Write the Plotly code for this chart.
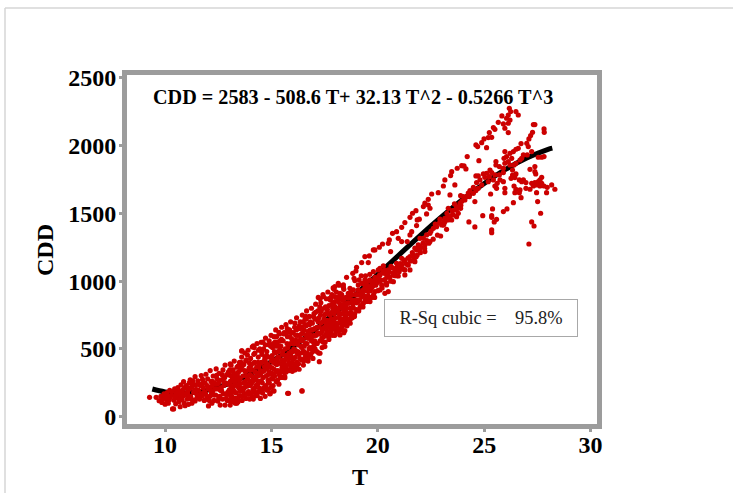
import plotly.graph_objects as go

curve_T = [9.4,10,11,12,13,14,15,16,17,18,19,20,21,22,23,24,25,26,27,28,28.2]
curve_CDD = [204,183,175,196,244,315,406,513,635,767,907,1050,1194,1338,1475,1604,1721,1824,1908,1972,1981]

cold_T = [9.27,9.58,9.72,9.8,9.85,9.9,9.95,10.0,10.02,10.08,
10.1,10.15,10.18,10.22,10.3,10.35,10.4,10.42,10.45,10.5,
10.52,10.55,10.6,10.65,10.68,10.71,10.72,10.75,10.8,10.85,
10.87,10.9,10.94,10.96,11.0,11.04,11.08,11.1,11.14,11.18,
11.2,11.24,11.26,11.3,11.34,11.38,11.41,11.41,11.45,11.5,
11.54,11.58,11.62,11.66,11.7,11.72,11.76,11.8,11.84,11.88,
11.9,11.92,11.95,12.0,12.04,12.06,12.1,12.12,12.16,12.2,
12.24,12.26,12.3,12.34,12.38,12.4,12.44,12.48,12.5,12.54,
12.56,12.59,12.62,12.66,12.7,12.72,12.76,12.8,12.82,12.82,
12.86,12.9,12.92,12.96,13.0,13.06,13.06,13.11,13.16,13.37,
10.25,10.62,10.78,11.02,11.28,11.48,11.6,11.82,11.98,12.14,
12.32,12.46,12.64,12.78,12.94,10.82,11.12,11.44,11.74,12.08]
cold_CDD = [143,143,118,150,105,132,168,92,148,120,
178,100,140,195,160,57,57,122,205,95,
175,140,215,110,190,74,155,235,125,200,
258,100,81,170,230,130,195,91,250,271,
150,215,99,265,180,125,116,295,235,160,
265,195,130,230,303,150,275,210,120,250,
170,313,130,280,79,215,150,340,260,99,
190,300,120,240,160,352,280,115,205,320,
150,86,270,190,130,345,230,290,86,381,
165,310,120,240,190,86,389,150,290,99,
145,165,180,160,230,200,240,175,230,195,
250,240,215,250,180,165,205,185,170,120]

dense_T = [13.02,13.05,13.08,13.1,13.12,13.15,13.18,13.2,13.22,13.25,
13.28,13.3,13.32,13.35,13.38,13.4,13.42,13.45,13.48,13.5,
13.52,13.55,13.58,13.6,13.62,13.65,13.68,13.7,13.72,13.75,
13.78,13.8,13.82,13.85,13.88,13.9,13.92,13.95,13.98,14.0,
14.02,14.05,14.08,14.1,14.12,14.15,14.18,14.2,14.22,14.25,
14.28,14.3,14.32,14.35,14.38,14.4,14.42,14.45,14.48,14.5,
14.52,14.55,14.58,14.6,14.62,14.65,14.68,14.7,14.72,14.75,
14.78,14.8,14.82,14.85,14.88,14.9,14.92,14.95,14.98,15.0,
15.02,15.05,15.08,15.1,15.12,15.15,15.18,15.2,15.22,15.25,
15.28,15.3,15.32,15.35,15.38,15.4,15.42,15.45,15.48,15.5,
15.52,15.55,15.58,15.6,15.62,15.65,15.68,15.7,15.72,15.75,
15.78,15.8,15.82,15.85,15.88,15.9,15.92,15.95,15.98,16.0,
16.02,16.05,16.08,16.1,16.12,16.15,16.18,16.2,16.22,16.25,
16.28,16.3,16.32,16.35,16.38,16.4,16.42,16.45,16.48,16.5,
16.52,16.55,16.58,16.6,16.62,16.65,16.68,16.7,16.72,16.75,
16.78,16.8,16.82,16.85,16.88,16.9,16.92,16.95,16.98,17.0,
17.02,17.05,17.08,17.1,17.12,17.15,17.18,17.2,17.22,17.25,
17.28,17.3,17.32,17.35,17.38,17.4,17.42,17.45,17.48,17.5,
17.52,17.55,17.58,17.6,17.62,17.65,17.68,17.7,17.72,17.75,
17.78,17.8,17.82,17.85,17.88,17.9,17.92,17.95,17.98,18.0,
18.02,18.05,18.08,18.1,18.12,18.15,18.18,18.2,18.22,18.25,
18.28,18.3,18.32,18.35,18.38,18.4,18.42,18.45,18.48,18.5]
dense_CDD = [120,305,165,380,225,270,140,345,195,410,
255,99,300,175,365,225,130,330,270,400,
155,345,210,440,120,300,250,385,170,470,
330,135,420,225,280,490,185,360,130,310,
430,170,250,515,345,130,395,210,470,290,
155,365,540,240,440,185,305,500,135,395,
265,460,175,550,335,215,420,150,580,300,
480,195,385,250,530,330,170,440,600,280,
360,510,230,420,590,300,470,640,260,385,
550,340,440,240,610,500,290,390,660,460,
330,560,410,620,300,500,680,370,455,590,
345,530,430,640,385,700,480,575,335,420,
620,500,370,690,440,565,730,400,650,530,
460,350,600,700,520,420,660,750,570,480,
640,430,720,540,600,780,470,680,410,580,
740,510,640,460,800,590,690,430,550,760,
650,500,830,600,720,540,780,880,470,660,
560,750,840,620,510,700,900,590,800,660,
550,760,870,630,710,920,590,820,670,750,
620,880,720,660,800,950,690,760,850,640,
730,920,790,680,860,650,970,750,830,700,
800,900,720,860,760,940,680,820,740,880]

core_T = [13.03,13.13,13.23,13.33,13.43,13.53,13.63,13.73,13.83,13.93,
13.07,13.17,13.27,13.37,13.47,13.57,13.67,13.77,13.87,13.97,
14.03,14.13,14.23,14.33,14.43,14.53,14.63,14.73,14.83,14.93,
14.07,14.17,14.27,14.37,14.47,14.57,14.67,14.77,14.87,14.97,
14.01,14.21,14.41,14.61,14.81,15.01,14.11,14.31,14.51,14.71,
15.03,15.13,15.23,15.33,15.43,15.53,15.63,15.73,15.83,15.93,
15.07,15.17,15.27,15.37,15.47,15.57,15.67,15.77,15.87,15.97,
15.11,15.21,15.31,15.41,15.51,15.61,15.71,15.81,15.91,16.01,
16.03,16.13,16.23,16.33,16.43,16.53,16.63,16.73,16.83,16.93,
16.07,16.17,16.27,16.37,16.47,16.57,16.67,16.77,16.87,16.97,
16.11,16.21,16.31,16.41,16.51,16.61,16.71,16.81,16.91,17.01,
17.03,17.13,17.23,17.33,17.43,17.53,17.63,17.73,17.83,17.93,
17.07,17.17,17.27,17.37,17.47,17.57,17.67,17.77,17.87,17.97,
18.06,18.16,18.26,18.36,18.46,18.56,18.6,18.65,18.7,18.75,
14.51,13.6,15.35,14.15,17.44,17.75,18.22,18.45,17.51,17.28,
16.73,16.5,16.1,15.63,17.98,18.22,17.75,17.9,15.09,15.76,
16.43,17.25,13.61,15.12,15.8,16.44,14.9,15.0,16.2,16.7]
core_CDD = [200,150,320,240,110,280,375,215,300,165,
260,340,180,290,210,400,190,260,455,395,
350,200,330,160,260,400,500,230,310,370,
300,460,230,400,340,250,370,450,205,520,
230,400,370,290,440,320,260,300,190,530,
450,350,520,400,330,480,420,540,470,360,
280,550,430,310,570,390,450,510,590,540,
400,330,480,560,420,360,620,400,450,480,
560,490,600,430,510,480,670,620,700,640,
430,640,390,570,620,680,540,500,560,740,
540,470,670,610,410,740,630,690,510,600,
560,660,730,690,650,700,790,610,770,830,
770,620,810,580,720,610,660,860,720,600,
690,770,870,800,700,840,760,880,800,930,
549,485,623,522,886,873,910,635,517,468,
431,381,345,288,603,603,627,677,190,172,
190,406,485,190,172,190,250,220,360,440]

fill_T = [10.06,10.2,10.33,10.47,10.58,10.7,10.83,10.92,11.06,11.16,
11.22,11.32,11.42,11.52,11.64,11.78,11.86,11.96,12.02,12.18,
12.22,12.28,12.36,12.42,12.52,12.6,12.68,12.74,12.84,12.88,
12.98,13.0,12.74,12.52,12.2,13.1,13.2,13.3,13.4,13.5,
13.04,13.14,13.24,13.34,13.44,13.54,13.64,13.74,13.84,13.94,
13.09,13.19,13.29,13.39,13.49,13.59,13.69,13.79,13.89,13.99,
14.04,14.14,14.24,14.34,14.44,14.54,14.64,14.74,14.84,14.94,
14.09,14.19,14.29,14.39,14.49,14.59,14.69,14.79,14.89,14.99,
15.04,15.14,15.24,15.34,15.44,15.54,15.64,15.74,15.84,15.94,
15.09,15.19,15.29,15.39,15.49,15.59,15.69,15.79,15.89,15.99,
16.04,16.14,16.24,16.34,16.44,16.54,16.64,16.74,16.84,16.94,
16.09,16.19,16.29,16.39,16.49,16.59,16.69,16.79,16.89,16.99,
17.04,17.14,17.24,17.34,17.44,17.54,17.64,17.74,17.84,17.94,
17.09,17.19,17.29,17.39,17.49,17.59,17.69,17.79,17.89,17.99,
18.03,18.13,18.23,18.33,18.43,18.53,18.63,18.73,18.83,18.93,
18.11,18.21,18.31,18.41,18.51,18.61,18.71,18.81,18.91,19.01,
19.05,19.15,19.25,19.35,19.45,19.55,19.65,19.75,19.85,19.95,
19.12,19.22,19.32,19.42,19.52,19.62,19.72,19.82,19.92,20.02,
20.12,20.22,20.32,20.42,20.52,20.62,20.72,20.82,20.92,21.02,
21.12,21.22,21.32,21.42,21.52,21.62,21.72,21.82,21.92,22.02,
22.12,22.3,22.5,22.7,22.9,23.1,23.3,23.5,23.7,23.9,
18.3,18.4,18.55,18.7,18.8,18.9,19.1,19.3,19.5,19.7,
19.0,19.2,19.4,19.6,19.8,20.0,20.2,20.4,20.6,20.8,
21.0,21.2,21.4,21.6,21.8,22.0,22.2,22.4,22.6,22.8,
19.1,19.3,19.5,19.7,19.9,20.1,20.3,20.5,20.7,20.9,
17.7,17.85,18.0,18.15,18.25,18.35,18.45,18.55,18.65,18.75]
fill_CDD = [165,125,185,150,195,130,150,215,175,210,
130,240,200,140,165,245,180,150,205,170,
260,160,205,305,250,195,310,170,250,135,
330,165,280,135,225,260,225,275,300,240,
345,110,270,135,375,190,150,340,240,345,
180,300,130,320,150,365,210,410,170,260,
380,290,180,320,210,480,340,400,270,170,
150,510,270,490,310,200,440,350,560,410,
310,480,590,440,520,290,380,650,340,620,
540,390,270,520,360,610,330,440,540,395,
350,600,480,650,560,520,720,450,600,480,
660,390,560,470,700,460,580,680,640,520,
720,480,610,780,550,810,620,700,900,720,
540,700,870,640,750,680,760,640,840,780,
660,800,900,680,780,720,840,770,810,900,
880,720,760,830,810,880,720,860,760,840,
900,860,920,890,930,890,930,960,880,1000,
1010,1040,980,1040,1000,1050,985,1000,1020,1000,
1010,1060,1080,1030,1070,1110,1050,1070,1110,1090,
1090,1150,1130,1170,1150,1210,1170,1230,1260,1250,
1280,1300,1370,1420,1430,1420,1470,1490,1530,1560,
640,620,670,690,730,740,780,810,850,880,
790,820,860,880,900,930,950,985,1000,1040,
1070,1090,1120,1150,1180,1210,1240,1280,1310,1340,
860,900,940,950,970,1000,1010,1030,1060,1040,
570,600,610,630,650,670,680,700,720,740]

mid_T = [22.53,22.84,22.37,22.21,22.37,22.14,22.45,22.29,21.79,21.63,
21.51,21.95,21.85,21.82,21.27,21.12,21.59,21.51,20.88,20.69,
20.96,21.12,21.38,20.54,20.49,20.22,20.07,19.86,19.79,20.6,
19.6,19.39,19.55,19.24,19.0,18.97,18.82,18.53,18.88,18.92,
17.98,18.14,18.38,18.38,17.94,23.15,23.31,22.92,22.76,23.0,
22.61,22.45,22.29,22.14,22.45,22.21,21.98,21.9,21.74,21.98,
22.21,21.67,21.85,21.51,21.74,21.27,21.12,21.43,21.12,20.88,
20.96,21.27,20.73,20.73,20.96,20.49,20.26,20.1,20.33,20.02,
19.79,20.1,19.86,20.33,20.57,20.41,20.18,19.94,19.63,19.39,
19.71,19.47,19.24,19.08,19.32,19.08,19.55,19.86,20.1,18.85,
18.69,19.79,19.47,19.24,19.0,18.77,18.61,18.45,18.22,17.98,
18.14,19.32,19.08,18.85,18.61,18.38,18.85,19.16,19.63,17.83,
17.98,20.49,20.33,20.73,21.27,21.51,18.5,18.7,18.95,19.15,
19.4,19.6,19.75,19.9,20.05,20.25,20.45,20.65,20.85,21.05]
mid_CDD = [1643,1653,1604,1575,1562,1550,1538,1496,1520,1501,
1471,1457,1452,1410,1432,1397,1365,1341,1365,1353,
1316,1292,1292,1304,1279,1274,1250,1230,1230,1218,
1186,1181,1137,1137,1102,1075,1058,1028,1021,1004,
960,984,972,955,940,1464,1476,1457,1402,1415,
1390,1353,1341,1316,1292,1267,1316,1267,1243,1230,
1218,1193,1193,1181,1144,1156,1169,1120,1120,1132,
1083,1083,1095,1046,1038,1083,1112,1095,1058,1083,
1070,1046,1028,1009,1028,972,972,984,1009,1009,
960,972,984,972,935,935,923,923,935,935,
947,886,886,886,898,898,910,873,886,886,
849,837,849,837,837,812,800,807,849,824,
812,923,910,996,1046,1083,780,840,860,900,
950,960,1000,1010,1040,1070,1050,1100,1090,1130]

hot_T = [26.18,26.24,26.13,26.6,25.83,26.49,26.05,26.21,25.66,25.9,
26.13,25.97,26.13,25.43,25.5,25.24,25.35,25.19,24.99,24.88,
24.61,24.69,25.11,24.2,24.75,27.38,27.31,27.81,27.82,27.27,
27.18,27.1,26.73,27.0,27.07,26.6,26.49,26.37,25.97,26.21,
26.84,27.23,27.02,26.05,25.93,26.29,26.13,25.55,25.55,25.97,
26.21,25.9,25.71,26.4,26.49,26.76,26.68,27.54,27.7,27.81,
27.15,27.38,27.38,27.42,26.49,26.33,26.44,26.26,26.65,26.84,
26.96,26.76,27.23,27.38,27.54,27.7,27.62,27.7,27.46,27.62,
27.81,27.31,27.96,28.17,28.32,27.93,27.46,26.96,27.15,26.4,
26.49,26.68,26.44,26.65,26.73,27.51,26.37,26.07,25.9,25.39,
24.93,25.35,25.35,25.58,25.47,27.65,27.23,27.34,25.35,25.35,
24.56,24.28,27.1,26.33,25.9,25.71,25.5,25.27,25.35,25.11,
24.96,24.72,24.61,24.8,25.03,25.24,25.43,25.61,25.5,25.74,
25.9,25.97,25.97,25.58,25.3,25.19,24.88,24.64,24.49,24.72,
24.33,24.49,24.61,24.3,24.17,24.56,24.02,23.89,24.09,23.86,
23.7,23.89,23.62,23.78,23.55,23.39,23.7,23.31,23.47,23.15,
23.31,23.39,23.23,23.08,22.95,23.15,23.08,23.62,23.47,23.42,
23.73,23.94,24.05,24.14,23.6,23.25,23.5,23.95,24.25,23.1]
hot_CDD = [2275,2251,2226,2226,2219,2251,2202,2189,2172,2160,
2165,2128,2096,2133,2120,2096,2061,2059,2049,2022,
2005,1993,1985,1919,1889,2155,2155,2123,2098,2098,
2074,2049,2015,2017,1993,1980,1973,1956,1956,1943,
1931,1956,1931,1919,1906,1906,1882,1882,1857,1870,
1857,1833,1845,1857,1870,1906,1894,1914,1914,1919,
1825,1845,1808,1791,1791,1783,1764,1759,1747,1747,
1727,1734,1722,1727,1734,1766,1747,1722,1710,1702,
1702,1702,1692,1710,1678,1653,1653,1685,1678,1702,
1678,1673,1653,1653,1616,1587,1579,1533,1513,1533,
1483,1483,1471,1456,1437,1501,1437,1407,1378,1358,
1400,1437,1274,1820,1801,1784,1784,1820,1801,1796,
1791,1776,1776,1747,1766,1771,1747,1722,1702,1747,
1734,1685,1653,1685,1643,1734,1710,1727,1692,1685,
1668,1648,1668,1624,1624,1587,1624,1631,1599,1574,
1550,1537,1525,1501,1488,1476,1476,1451,1451,1439,
1537,1636,1382,1414,1333,1747,1702,1710,1808,1779,
1833,1852,1850,1828,1570,1500,1520,1590,1650,1440]

y_ticks = [0,500,1000,1500,2000,2500]
x_ticks = [10,15,20,25,30]

W, H = 733, 493
L, R, T_, B = 127, 597, 75, 424
FONT = "Liberation Serif"
GREY = "#9c9c9c"
px = lambda v: (v - L) / (R - L)
py = lambda v: (B - v) / (B - T_)

all_T = cold_T + dense_T + core_T + fill_T + mid_T + hot_T
all_CDD = cold_CDD + dense_CDD + core_CDD + fill_CDD + mid_CDD + hot_CDD

fig = go.Figure()
fig.add_trace(go.Scatter(x=curve_T, y=curve_CDD, mode="lines",
                         line=dict(color="black", width=5, shape="spline"), hoverinfo="skip"))
fig.add_trace(go.Scatter(x=all_T, y=all_CDD, mode="markers",
                         marker=dict(color="#cc0000", size=5.2)))

axis = dict(showgrid=False, zeroline=False, showline=True, mirror=True, linecolor=GREY, linewidth=5,
            ticks="outside", ticklen=3, tickwidth=3, tickcolor=GREY, automargin=False,
            tickfont=dict(family=FONT, size=24, color="black"))
fig.update_xaxes(range=[8.21, 30.3], tickvals=x_ticks, ticktext=[f"<b>{v}</b>" for v in x_ticks],
                 ticklabelstandoff=-8, **axis)
fig.update_yaxes(range=[-54, 2521], tickvals=y_ticks, ticktext=[f"<b>{v}</b>" for v in y_ticks],
                 ticklabelstandoff=-2, **axis)

label = lambda x, y, text, size, **kw: dict(
    xref="paper", yref="paper", x=px(x), y=py(y), xanchor="center", yanchor="middle",
    showarrow=False, text=text, font=dict(family=FONT, size=size, color=kw.pop("color", "black")), **kw)

fig.update_layout(
    width=W, height=H, margin=dict(l=L, r=W - R, t=T_, b=H - B),
    paper_bgcolor="white", plot_bgcolor="white", showlegend=False,
    font=dict(family=FONT),
    shapes=[
        dict(type="line", xref="paper", yref="paper", x0=px(5), x1=px(W), y0=py(8), y1=py(8),
             line=dict(color="#d6d6d6", width=1.5)),
        dict(type="line", xref="paper", yref="paper", x0=px(5), x1=px(5), y0=py(8), y1=py(H),
             line=dict(color="#d6d6d6", width=1.5)),
    ],
    annotations=[
        label(353, 97, "<b>CDD = 2583 - 508.6 T+ 32.13 T^2 - 0.5266 T^3</b>", 20.2),
        label(481, 318, "R-Sq cubic =    95.8%", 18.4, color="#222222", width=190, height=34,
              bordercolor="#a8a8a8", borderwidth=1, bgcolor="white"),
        label(360, 477, "<b>T</b>", 24),
        label(45, 250, "<b>CDD</b>", 24, textangle=-90),
    ],
)
fig.write_html("out.html", config=dict(displayModeBar=False),
               post_script="document.body.style.margin='0';")
